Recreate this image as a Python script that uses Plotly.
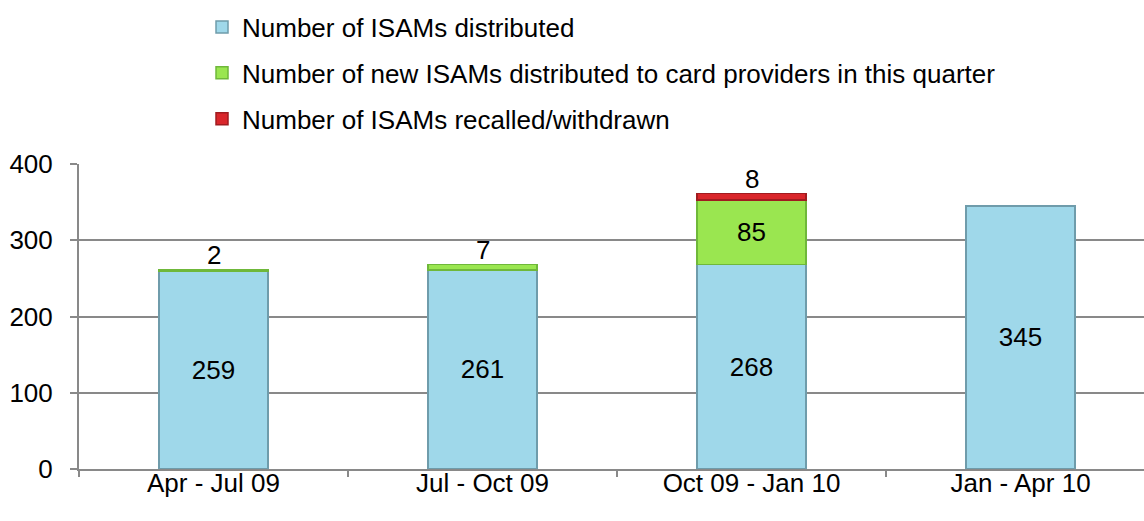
import plotly.graph_objects as go

categories = ["Apr - Jul 09", "Jul - Oct 09", "Oct 09 - Jan 10", "Jan - Apr 10"]
distributed = [259, 261, 268, 345]
new_isams = [2, 7, 85, 0]
recalled = [0, 0, 8, 0]
series_names = [
    "Number of ISAMs distributed",
    "Number of new ISAMs distributed to card providers in this quarter",
    "Number of ISAMs recalled/withdrawn",
]
colors = ["#9fd8ea", "#9ae650", "#d9262b"]
edges = ["#6f9cab", "#6fb83a", "#a01c20"]

FONT = "Liberation Sans, Arial, sans-serif"
FS = 26

fig = go.Figure()

def inside_text(vals, min_h):
    return [str(v) if v >= min_h else "" for v in vals]

series = [distributed, new_isams, recalled]
for i, vals in enumerate(series):
    yvals = [v if v > 0 else None for v in vals]
    fig.add_trace(go.Bar(
        x=categories, y=yvals, name=series_names[i],
        marker=dict(color=colors[i], line=dict(color=edges[i], width=1.5)),
        text=inside_text(vals, 30),
        textposition="inside", insidetextanchor="middle", textangle=0,
        textfont=dict(family=FONT, size=FS, color="#000000"),
        width=0.405, legendgroup=f"g{i}", hoverinfo="x+y+name",
    ))

# labels for thin segments placed above the stack
for j, c in enumerate(categories):
    total = distributed[j] + new_isams[j] + recalled[j]
    small = None
    if 0 < recalled[j] < 30:
        small = recalled[j]
    elif 0 < new_isams[j] < 30:
        small = new_isams[j]
    if small is not None:
        fig.add_annotation(x=c, y=total, text=str(small), showarrow=False,
                           yanchor="bottom", yshift=-2,
                           font=dict(family=FONT, size=FS, color="#000000"))

fig.update_layout(
    width=1144, height=521,
    barmode="stack", bargap=0.595,
    paper_bgcolor="white", plot_bgcolor="white",
    margin=dict(l=79, r=0, t=164, b=52, pad=0),
    font=dict(family=FONT, size=FS, color="#000000"),
    showlegend=True,
    legend=dict(
        x=0.1155, y=0.993, xref="paper", yref="container", xanchor="left", yanchor="top",
        traceorder="grouped", tracegroupgap=9,
        font=dict(family=FONT, size=FS, color="#000000"),
        bgcolor="rgba(0,0,0,0)", itemwidth=30,
    ),
    xaxis=dict(
        type="category", range=[-0.5, 3.459], automargin=False,
        showline=True, linecolor="#898989", linewidth=2,
        ticks="outside", tickson="boundaries", ticklen=6, tickcolor="#898989", tickwidth=2,
        ticklabelstandoff=-10,
        tickfont=dict(family=FONT, size=FS, color="#000000"),
        showgrid=False,
    ),
    yaxis=dict(
        range=[0, 400], dtick=100, automargin=False,
        showline=True, linecolor="#898989", linewidth=2,
        ticks="outside", ticklen=7, tickcolor="#898989", tickwidth=2,
        ticklabelstandoff=12,
        showgrid=True, gridcolor="#898989", gridwidth=2,
        tickfont=dict(family=FONT, size=FS, color="#000000"),
        zeroline=False,
    ),
)

fig.write_html("out.html", config={"displayModeBar": False},
               post_script="document.body.style.margin='0px';")
